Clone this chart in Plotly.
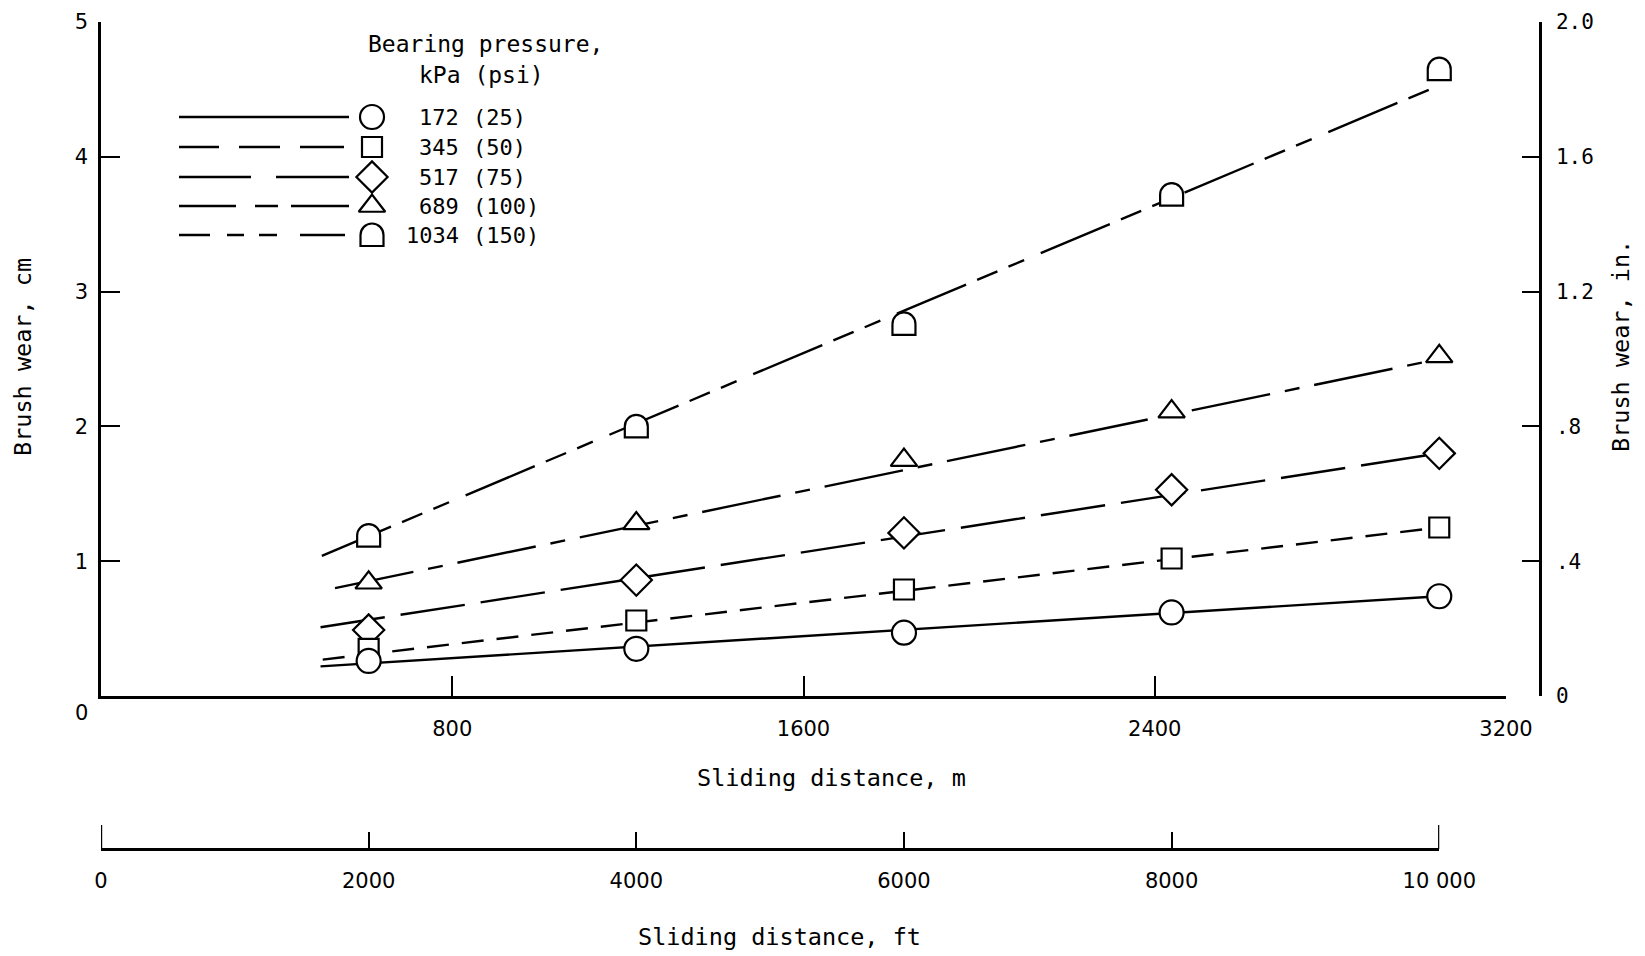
import plotly.graph_objects as go

# ------------------------------------------------------------------ data
distance_ft = [2000, 4000, 6000, 8000, 10000]
pressure_kpa = ["172", "345", "517", "689", "1034"]
pressure_psi = ["(25)", "(50)", "(75)", "(100)", "(150)"]

wear_172_cm = [0.26, 0.35, 0.47, 0.62, 0.74]
wear_345_cm = [0.35, 0.56, 0.79, 1.02, 1.25]
wear_517_cm = [0.49, 0.86, 1.21, 1.53, 1.80]
wear_689_cm = [0.84, 1.28, 1.75, 2.11, 2.52]
wear_1034_cm = [1.19, 2.00, 2.76, 3.72, 4.65]

# fitted straight lines (start / end of each drawn line)
fit_start_m = [500, 505, 500, 533, 503]
fit_end_m = [3048, 3048, 3048, 3048, 3048]
fit_start_cm = [0.22, 0.27, 0.51, 0.80, 1.04]
fit_end_cm = [0.74, 1.25, 1.80, 2.50, 4.53]

m_tickvals = [800, 1600, 2400, 3200]
ft_tickvals = [0, 2000, 4000, 6000, 8000, 10000]
ft_ticktext = ["0", "2000", "4000", "6000", "8000", "10 000"]
cm_tickvals = [1, 2, 3, 4, 5]
in_tickvals = [0, 0.4, 0.8, 1.2, 1.6, 2.0]
in_ticktext = ["0", ".4", ".8", "1.2", "1.6", "2.0"]

series_wear = [wear_172_cm, wear_345_cm, wear_517_cm, wear_689_cm, wear_1034_cm]

# ------------------------------------------------------------------ styles / layout
W, H = 1645, 956
M_PER_FT = 0.3048
M_MAX = 3200
FT_MAX = 10000
X0_PX, X1_PX = 101, 1506      # m axis pixel extent
Y0_PX, Y1_PX = 696, 22        # cm axis pixel extent (0 .. 5)
RIGHT_AXIS_PX = 1540
FT_AXIS_PX = 849

SANS = "DejaVu Sans, Liberation Sans, sans-serif"
MONO = "DejaVu Sans Mono, Liberation Mono, monospace"
BLACK = "black"
LW = 2.4

distance_m = [d * M_PER_FT for d in distance_ft]


def px(x):
    return x / W


def py(y):
    return 1 - y / H


X_DOM = [px(X0_PX), px(X1_PX)]
Y_DOM = [py(Y0_PX), py(Y1_PX)]
FT_DOM = [X_DOM[0], X_DOM[0] + (X_DOM[1] - X_DOM[0]) * FT_MAX * M_PER_FT / M_MAX]

symbols = ["circle", "square", "diamond", "triangle-up", None]
msizes = [24, 20, 24, 23, None]
plot_dash = ["solid", "22px,13px", "65px,16px", "80px,15px,15px,15px",
             "75px,12px,22px,12px,17px,18px"]
legend_dash = ["solid", "40px,20px,41px,20px,44px", "72px,25px,73px",
               "57px,19px,23px,13px,58px",
               "31px,17px,17px,15px,18px,23px,45px,20px"]

leg_rows_y = [117, 147, 177, 206, 235]
leg_line_x = [179, 349]
leg_marker_x = 372
leg_num_right = 461
leg_psi_left = 471


def dome_path(r=11.5, h=11.0):
    k = 0.5523 * r
    return (f"M{-r},{-h} L{-r},0 C{-r},{k} {-k},{r} 0,{r} "
            f"C{k},{r} {r},{k} {r},0 L{r},{-h} Z")


fig = go.Figure()

# fitted lines (metres axis)
for i in range(5):
    fig.add_trace(go.Scatter(
        x=[fit_start_m[i], fit_end_m[i]], y=[fit_start_cm[i], fit_end_cm[i]],
        mode="lines", line=dict(color=BLACK, width=LW, dash=plot_dash[i]),
        xaxis="x", yaxis="y", hoverinfo="skip", showlegend=False,
        cliponaxis=False))

# data markers
for i in [3, 2, 1, 0]:
    fig.add_trace(go.Scatter(
        x=distance_m, y=series_wear[i], mode="markers",
        marker=dict(symbol=symbols[i], size=msizes[i], color="white",
                    line=dict(color=BLACK, width=2.2)),
        xaxis="x", yaxis="y", hoverinfo="skip", showlegend=False,
        cliponaxis=False))

# invisible traces so the feet axis and inch axis are drawn
fig.add_trace(go.Scatter(x=distance_ft, y=wear_1034_cm, mode="markers",
                         marker=dict(opacity=0), xaxis="x2", yaxis="y",
                         hoverinfo="skip", showlegend=False))
fig.add_trace(go.Scatter(x=[distance_m[0]], y=[0], mode="markers",
                         marker=dict(opacity=0), xaxis="x", yaxis="y2",
                         hoverinfo="skip", showlegend=False))

shapes = []
# dome markers for 1034 kPa
for xv, yv in zip(distance_m, wear_1034_cm):
    shapes.append(dict(type="path", xref="x", yref="y", xsizemode="pixel",
                       ysizemode="pixel", xanchor=xv, yanchor=yv,
                       path=dome_path(), fillcolor="white",
                       line=dict(color=BLACK, width=2.2), layer="above"))

# longer end ticks on the feet axis
for xv in [ft_tickvals[0], ft_tickvals[-1]]:
    shapes.append(dict(type="line", xref="x2", yref="paper", ysizemode="pixel",
                       yanchor=py(FT_AXIS_PX), x0=xv, x1=xv, y0=0, y1=24,
                       line=dict(color=BLACK, width=2.4)))

# ---------------- legend (drawn on a pixel overlay axis)
for i in range(5):
    fig.add_trace(go.Scatter(
        x=leg_line_x, y=[leg_rows_y[i]] * 2, mode="lines",
        line=dict(color=BLACK, width=LW, dash=legend_dash[i]),
        xaxis="x3", yaxis="y3", hoverinfo="skip", showlegend=False))
for i in range(4):
    fig.add_trace(go.Scatter(
        x=[leg_marker_x], y=[leg_rows_y[i]], mode="markers",
        marker=dict(symbol=symbols[i], size=msizes[i], color="white",
                    line=dict(color=BLACK, width=2.2)),
        xaxis="x3", yaxis="y3", hoverinfo="skip", showlegend=False))
shapes.append(dict(type="path", xref="x3", yref="y3", xsizemode="pixel",
                   ysizemode="pixel", xanchor=leg_marker_x, yanchor=leg_rows_y[4],
                   path=dome_path(), fillcolor="white",
                   line=dict(color=BLACK, width=2.2), layer="above"))

annotations = []


def note(text, x, y, size=23, family=MONO, xanchor="center", angle=0):
    annotations.append(dict(text=text, x=x, y=y, xref="x3", yref="y3",
                            showarrow=False, xanchor=xanchor, yanchor="middle",
                            textangle=angle,
                            font=dict(family=family, size=size, color=BLACK)))


note("Bearing pressure,", 485, 44)
note("kPa (psi)", 481, 75)
for i in range(5):
    note(pressure_kpa[i], leg_num_right, leg_rows_y[i], size=22, xanchor="right")
    note(pressure_psi[i], leg_psi_left, leg_rows_y[i], size=22, xanchor="left")

note("Sliding distance, m", 831, 778, size=23.5)
note("Sliding distance, ft", 779, 937, size=23.5)
note("Brush wear, cm", 23, 357, size=23.5, angle=-90)
note("Brush wear, in.", 1621, 346, size=23.5, angle=-90)
note("0", 81, 713, size=21, family=SANS)

axis_common = dict(showgrid=False, zeroline=False, showline=True,
                   linecolor=BLACK, linewidth=2.5, tickcolor=BLACK, tickwidth=2,
                   ticks="inside", fixedrange=True, automargin=False)

fig.update_layout(
    template="none",
    width=W, height=H,
    margin=dict(l=0, r=0, t=0, b=0, pad=0, autoexpand=False),
    paper_bgcolor="white", plot_bgcolor="rgba(0,0,0,0)",
    showlegend=False,
    font=dict(family=SANS, color=BLACK),
    xaxis=dict(domain=X_DOM, range=[0, M_MAX], anchor="y",
               tickmode="array", tickvals=m_tickvals, ticklen=20,
               ticklabelstandoff=12,
               tickfont=dict(family=SANS, size=21, color=BLACK), **axis_common),
    yaxis=dict(domain=Y_DOM, range=[0, 5], anchor="x",
               tickmode="array", tickvals=cm_tickvals, ticklen=19,
               ticklabelstandoff=6,
               tickfont=dict(family=SANS, size=21, color=BLACK), **axis_common),
    xaxis2=dict(domain=FT_DOM, range=[0, FT_MAX], anchor="free",
                position=py(FT_AXIS_PX),
                tickmode="array", tickvals=ft_tickvals, ticktext=ft_ticktext,
                ticklen=16, ticklabelstandoff=12,
                tickfont=dict(family=SANS, size=21, color=BLACK), **axis_common),
    yaxis2=dict(overlaying="y", side="right", anchor="free",
                position=px(RIGHT_AXIS_PX), range=[0, 2.0],
                tickmode="array", tickvals=in_tickvals, ticktext=in_ticktext,
                ticklen=17, ticklabelstandoff=10,
                tickfont=dict(family=MONO, size=21, color=BLACK), **axis_common),
    xaxis3=dict(domain=[0, 1], range=[0, W], anchor="y3", visible=False,
                fixedrange=True, automargin=False),
    yaxis3=dict(domain=[0, 1], range=[H, 0], anchor="x3", visible=False,
                fixedrange=True, automargin=False),
    shapes=shapes,
    annotations=annotations,
)

fig.write_html("out.html", config={"displayModeBar": False})
